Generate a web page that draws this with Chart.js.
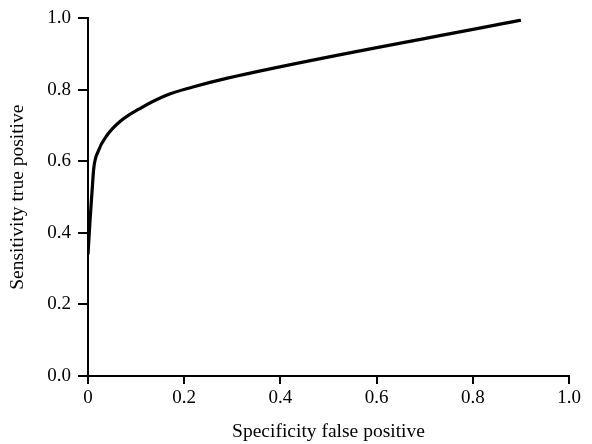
<!DOCTYPE html>
<html>
<head>
<meta charset="utf-8">
<script src="https://cdn.jsdelivr.net/npm/chart.js@4"></script>
<style>
  html, body { margin: 0; padding: 0; background: #fff; }
  #wrap { width: 592px; height: 444px; }
</style>
</head>
<body>
<div id="wrap"><canvas id="rocChart" width="592" height="444"></canvas></div>
<script>
// ROC curve
const falsePos = [0, 0.004, 0.008, 0.012, 0.021, 0.04, 0.066, 0.108, 0.163, 0.218, 0.29, 0.9];
const truePos  = [0.34, 0.43, 0.508, 0.581, 0.628, 0.674, 0.711, 0.748, 0.785, 0.808, 0.833, 0.995];
const xTicks = [0, 0.2, 0.4, 0.6, 0.8, 1.0];
const yTicks = [0, 0.2, 0.4, 0.6, 0.8, 1.0];

const serif = 'Liberation Serif';

document.addEventListener('DOMContentLoaded', function() {
  const ctx = document.getElementById('rocChart');
  const points = falsePos.map((x, i) => ({ x: x, y: truePos[i] }));

  new Chart(ctx, {
    type: 'scatter',
    data: {
      datasets: [{
        label: 'ROC',
        data: points,
        showLine: true,
        borderColor: '#000',
        borderWidth: 3.2,
        pointRadius: 0,
        cubicInterpolationMode: 'monotone',
        fill: false
      }]
    },
    options: {
      responsive: false,
      animation: false,
      layout: { padding: { top: 13, right: 23, left: 0, bottom: 0 } },
      plugins: {
        legend: { display: false },
        tooltip: { enabled: false }
      },
      scales: {
        x: {
          type: 'linear',
          min: 0,
          max: 1,
          afterBuildTicks: (axis) => { axis.ticks = xTicks.map(v => ({ value: v })); },
          afterFit: (axis) => { axis.height = 68; },
          ticks: {
            color: '#000',
            font: { family: serif, size: 19 },
            padding: 3,
            maxRotation: 0,
            callback: (v) => v === 0 ? '0' : v.toFixed(1)
          },
          grid: {
            drawOnChartArea: false,
            color: '#000',
            lineWidth: 2,
            tickLength: 8
          },
          border: { color: '#000', width: 2 },
          title: {
            display: true,
            text: 'Specificity false positive',
            color: '#000',
            font: { family: serif, size: 19.5 },
            padding: { top: 4, bottom: 0 }
          }
        },
        y: {
          type: 'linear',
          min: 0,
          max: 1,
          afterBuildTicks: (axis) => { axis.ticks = yTicks.map(v => ({ value: v })); },
          afterFit: (axis) => { axis.width = 88; },
          ticks: {
            color: '#000',
            font: { family: serif, size: 19 },
            padding: 7,
            callback: (v) => v.toFixed(1)
          },
          grid: {
            drawOnChartArea: false,
            color: '#000',
            lineWidth: 2,
            tickLength: 10
          },
          border: { color: '#000', width: 2 },
          title: {
            display: true,
            text: 'Sensitivity true positive',
            color: '#000',
            font: { family: serif, size: 19.5 },
            padding: { top: 6, bottom: 6 }
          }
        }
      }
    }
  });
});
</script>
</body>
</html>
